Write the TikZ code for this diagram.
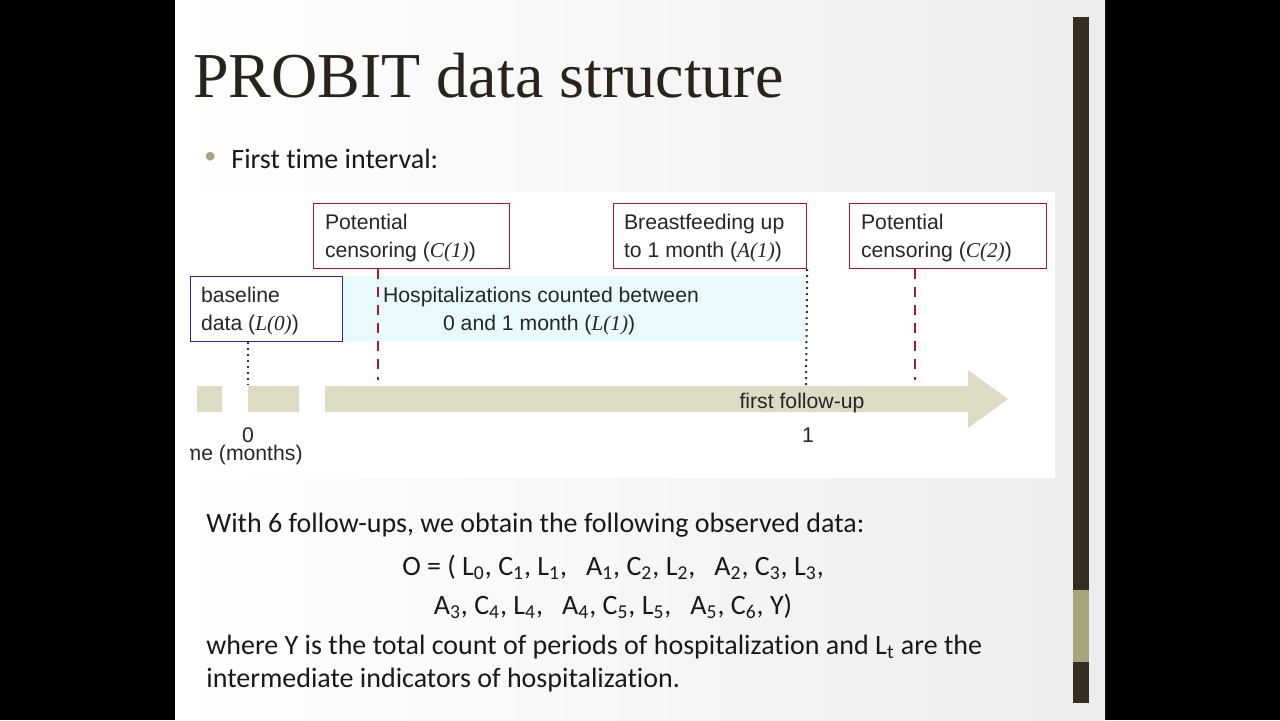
\documentclass[tikz,border=0pt]{standalone}
\usepackage{fontspec}
\setmainfont{Carlito}[Ligatures=NoCommon]
\newfontfamily\ttl{Liberation Serif}
\newfontfamily\ar{Liberation Sans}
\newcommand{\itv}[1]{{\ttl\itshape #1}}
\newcommand{\sbx}[1]{\textsubscript{#1}}
\definecolor{axisc}{RGB}{221,219,196}
\definecolor{barc}{RGB}{52,46,34}
\definecolor{olivec}{RGB}{168,164,124}
\definecolor{redc}{RGB}{160,30,40}
\definecolor{bluec}{RGB}{40,40,150}
\definecolor{cyanc}{RGB}{232,250,252}
\definecolor{titc}{RGB}{40,36,26}
\begin{document}
\begin{tikzpicture}[x=0.5pt,y=-0.5pt,
  rbox/.style={draw=redc,line width=0.6pt,fill=white,inner sep=0pt},
  lbl/.style={font=\ar\fontsize{10.6}{14}\selectfont,text=black!85},
  body/.style={font=\fontsize{14}{16}\selectfont,text=black!90,inner sep=0pt},
  rdash/.style={draw=redc,line width=1pt,dash pattern=on 5pt off 4pt},
  bdot/.style={draw=black!80,line width=1pt,dotted}]
\useasboundingbox (0,0) rectangle (1280,720);
\fill[black] (0,0) rectangle (1280,720);
\shade[left color=white,right color=black!7] (175,0) rectangle (1105,720);
\fill[white] (190,192) rectangle (1055,478);
\fill[barc] (1073,17) rectangle (1089,703);
\fill[olivec] (1073,590) rectangle (1089,662);
\node[anchor=west,inner sep=0pt,font=\ttl\fontsize{32}{36}\selectfont,text=titc] (title) at (193,76) {PROBIT data structure};
\node[anchor=west,inner sep=0pt,text=olivec,font=\fontsize{12}{12}\selectfont] (b) at (204,158) {•};
\node[body,anchor=west] (fi) at (231,159) {First time interval:};
% diagram
\fill[cyanc] (342,276) rectangle (806,341);
\node[rbox,minimum width=98pt,minimum height=32.5pt,anchor=north west] (c1) at (313,203) {};
\node[lbl,anchor=north west,align=left] at (318,207) {Potential\\censoring (\itv{C(1)})};
\node[rbox,minimum width=96.5pt,minimum height=32.5pt,anchor=north west] (a1) at (613,203) {};
\node[lbl,anchor=north west,align=left] at (617,207) {Breastfeeding up\\to 1 month (\itv{A(1)})};
\node[rbox,minimum width=98.5pt,minimum height=32.5pt,anchor=north west] (c2) at (849,203) {};
\node[lbl,anchor=north west,align=left] at (854,207) {Potential\\censoring (\itv{C(2)})};
\node[draw=bluec,line width=0.6pt,fill=white,minimum width=76pt,minimum height=32.5pt,anchor=north west,inner sep=0pt] (bl) at (190,276) {};
\node[lbl,anchor=north west,align=left] at (194,280) {baseline\\data (\itv{L(0)})};
\node[lbl,anchor=north west,align=left] (hosp) at (376,280) {Hospitalizations counted between\\\hspace{30pt}0 and 1 month (\itv{L(1)})};
\coordinate (e1) at (378,380);
\coordinate (e2) at (806,385);
\coordinate (e3) at (915,380);
\coordinate (e0) at (248,385);
\draw[rdash] (c1.south -| e1) -- (e1);
\draw[bdot] (a1.south east) -- (e2);
\draw[rdash] (c2.south -| e3) -- (e3);
\draw[bdot] (bl.south -| e0) -- (e0);
\fill[axisc] (197,386) rectangle (222,412) (248,386) rectangle (299,412);
\fill[axisc] (325,386) -- (968,386) -- (968,370) -- (1008,399) -- (968,428) -- (968,412) -- (325,412) -- cycle;
\node[lbl] (ff) at (802,403) {first follow-up};
\node[lbl] (one) at (808,435) {1};
\node[lbl] (zero) at (248,435) {0};
\begin{scope}
\clip (190,440) rectangle (400,470);
\node[lbl,anchor=east,inner sep=0pt] (tm) at (303,455) {Time (months)};
\end{scope}
% text
\node[body,anchor=west] (t1) at (206,525) {With 6 follow-ups, we obtain the following observed data:};
\node[body] (t2) at (613,567) {O = ( L\sbx{0}, C\sbx{1}, L\sbx{1},\ \ \ A\sbx{1}, C\sbx{2}, L\sbx{2},\ \ \ A\sbx{2}, C\sbx{3}, L\sbx{3},};
\node[body] (t3) at (613,606) {A\sbx{3}, C\sbx{4}, L\sbx{4},\ \ \ A\sbx{4}, C\sbx{5}, L\sbx{5},\ \ \ A\sbx{5}, C\sbx{6}, Y)};
\node[body,anchor=west] (t4) at (206,647) {where Y is the total count of periods of hospitalization and L\sbx{t} are the};
\node[body,anchor=west] (t5) at (206,680) {intermediate indicators of hospitalization.};
\end{tikzpicture}
\end{document}
